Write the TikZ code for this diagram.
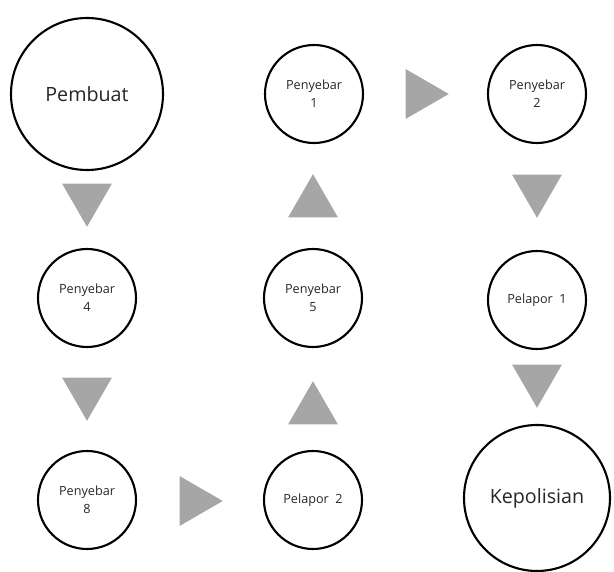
\documentclass[tikz,border=0pt]{standalone}
\usepackage{fontspec}
\setmainfont{Open Sans}
\usetikzlibrary{shapes.geometric}
\definecolor{arrowgray}{HTML}{A6A6A6}
\definecolor{txtgray}{HTML}{262626}
\begin{document}
\begin{tikzpicture}[
    bigcircle/.style={circle,draw,line width=1.5pt,minimum size=3.8cm,inner sep=0pt,text=txtgray,font=\fontsize{14}{16}\selectfont},
    smallcircle/.style={circle,draw,line width=1.5pt,minimum size=2.45cm,inner sep=0pt,align=center,text=txtgray,font=\fontsize{9}{13}\selectfont},
    tri/.style={regular polygon,regular polygon sides=3,fill=arrowgray,draw=none,minimum size=1.44cm,inner sep=0pt,outer sep=0pt},
    tridown/.style={tri,shape border rotate=180},
    triright/.style={tri,shape border rotate=-90},
    triup/.style={tri}
]
    \useasboundingbox (0,0) rectangle (15.35,-14.3);

    \node[bigcircle] (A) at (2.175,-2.35) {Pembuat};
    \node[smallcircle] (B) at (7.85,-2.35) {Penyebar\\1};
    \node[smallcircle] (C) at (13.425,-2.35) {Penyebar\\2};

    \node[smallcircle] (D) at (2.175,-7.45) {Penyebar\\4};
    \node[smallcircle] (E) at (7.825,-7.45) {Penyebar\\5};
    \node[smallcircle] (F) at (13.425,-7.5) {Pelapor\ \ 1};

    \node[smallcircle] (G) at (2.175,-12.5) {Penyebar\\8};
    \node[smallcircle] (H) at (7.825,-12.5) {Pelapor\ \ 2};
    \node[bigcircle,minimum size=3.65cm] (K) at (13.425,-12.45) {Kepolisian};

    % panah
    \node[tridown] (AD) at (2.175,-4.95) {};
    \node[tridown] (DG) at (2.175,-9.8) {};
    \node[triright] (GH) at (4.85,-12.525) {};
    \node[triup] (HE) at (7.825,-10.25) {};
    \node[triup] (EB) at (7.825,-5.075) {};
    \node[triright] (BC) at (10.5,-2.35) {};
    \node[tridown] (CF) at (13.425,-4.725) {};
    \node[tridown] (FK) at (13.425,-9.475) {};

\end{tikzpicture}
\end{document}
